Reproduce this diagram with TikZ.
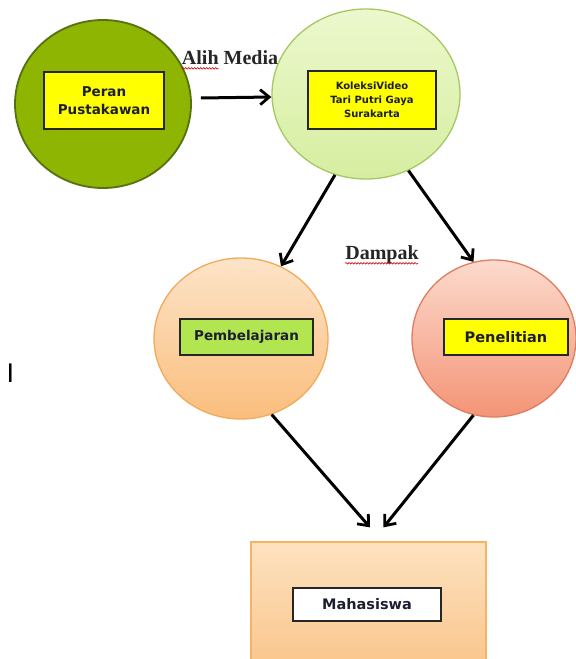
\documentclass[tikz,border=0pt]{standalone}
\usepackage{fontspec}
\setmainfont{DejaVu Sans}
\newfontfamily\serifb{Liberation Serif}
\newfontfamily\arialf{Liberation Sans}
\usetikzlibrary{shapes.geometric,arrows.meta,decorations.pathmorphing,shadings}
\definecolor{cOneFill}{RGB}{141,181,2}
\definecolor{cOneDraw}{RGB}{86,112,20}
\definecolor{cTwoTop}{RGB}{236,248,205}
\definecolor{cTwoBot}{RGB}{214,238,160}
\definecolor{cTwoDraw}{RGB}{165,200,100}
\definecolor{cThrTop}{RGB}{253,228,200}
\definecolor{cThrBot}{RGB}{250,190,125}
\definecolor{cThrDraw}{RGB}{240,170,90}
\definecolor{cFouTop}{RGB}{252,218,205}
\definecolor{cFouBot}{RGB}{244,148,118}
\definecolor{cFouDraw}{RGB}{222,125,95}
\definecolor{cMTop}{RGB}{253,226,192}
\definecolor{cMBot}{RGB}{250,198,140}
\definecolor{cMDraw}{RGB}{244,180,100}
\definecolor{boxYellow}{RGB}{255,255,0}
\definecolor{boxGreen}{RGB}{178,230,80}
\definecolor{txtDark}{RGB}{30,30,50}
\begin{document}
\begin{tikzpicture}[x=1bp,y=-1bp,
  circ/.style={ellipse, inner sep=0pt, line width=1.3bp},
  lbl/.style={rectangle, draw=black!85, line width=1.3bp, inner sep=0pt, align=center,
    text=txtDark, font=\bfseries\fontsize{13.5bp}{18bp}\selectfont},
  arr/.style={line width=3bp, -{Straight Barb[length=9bp,width=15bp,line width=2.8bp]}},
  squig/.style={red!80!black, line width=0.6bp, decorate,
    decoration={snake, amplitude=0.8bp, segment length=3bp}},
  titl/.style={inner sep=0pt, font=\serifb\bfseries\fontsize{20bp}{22bp}\selectfont, text=black!85}
]
\clip (0,0) rectangle (576,659);
\fill[white] (0,0) rectangle (576,659);

% circles
\node[circ, fill=cOneFill, draw=cOneDraw, line width=1.8bp, minimum width=176bp, minimum height=168bp] (c1) at (103,104) {};
\node[circ, top color=cTwoTop, bottom color=cTwoBot, draw=cTwoDraw, minimum width=188bp, minimum height=170bp] (c2) at (366,94) {};
\node[circ, top color=cThrTop, bottom color=cThrBot, draw=cThrDraw, minimum width=174bp, minimum height=161bp] (c3) at (241,338.5) {};
\node[circ, top color=cFouTop, bottom color=cFouBot, draw=cFouDraw, minimum width=164bp, minimum height=157bp] (c4) at (494,338.5) {};
\node[rectangle, top color=cMTop, bottom color=cMBot, draw=cMDraw, line width=1.3bp, inner sep=0pt, minimum width=235bp, minimum height=123bp] (m) at (368.5,603.5) {};

% inner boxes
\node[lbl, fill=boxYellow, minimum width=120bp, minimum height=57bp] (t1) at (104,100.5) {Peran\\Pustakawan};
\node[lbl, fill=boxYellow, minimum width=128bp, minimum height=58bp, font=\bfseries\fontsize{10bp}{14bp}\selectfont] (t2) at (372,100) {KoleksiVideo\\Tari Putri Gaya\\Surakarta};
\node[lbl, fill=boxGreen, minimum width=133bp, minimum height=36bp] (t3) at (246.5,337) {Pembelajaran};
\node[lbl, fill=boxYellow, minimum width=124bp, minimum height=36bp, font=\bfseries\fontsize{14.5bp}{18bp}\selectfont] (t4) at (506,337) {Penelitian};
\node[lbl, fill=white, minimum width=148bp, minimum height=33bp, font=\bfseries\fontsize{14.5bp}{18bp}\selectfont] (t5) at (367,604.5) {Mahasiswa};

% labels
\node[titl] (alih) at (230,58) {Alih Media};
\node[titl] (dampak) at (382,255) {Dampak};
\draw[squig] ([shift={(0,3.5)}]alih.base west) -- ++(37,0);
\draw[squig] ([shift={(0,3.5)}]dampak.base west) -- ++(73,0);
\node[inner sep=0pt, font=\arialf\fontsize{27bp}{30bp}\selectfont] (bar) at (10.5,373) {I};

% arrows
\draw[arr] ([shift={(9,-6)}]c1.east) -- ([shift={(0,3)}]c2.west);
\draw[arr] (c2.249) -- (c3.61);
\draw[arr] (c2.299) -- (c4.105);
\draw[arr] (c3.292) -- ([shift={(1.5,-14)}]m.north);
\draw[arr] (c4.255) -- ([shift={(15,-14)}]m.north);
\end{tikzpicture}
\end{document}
